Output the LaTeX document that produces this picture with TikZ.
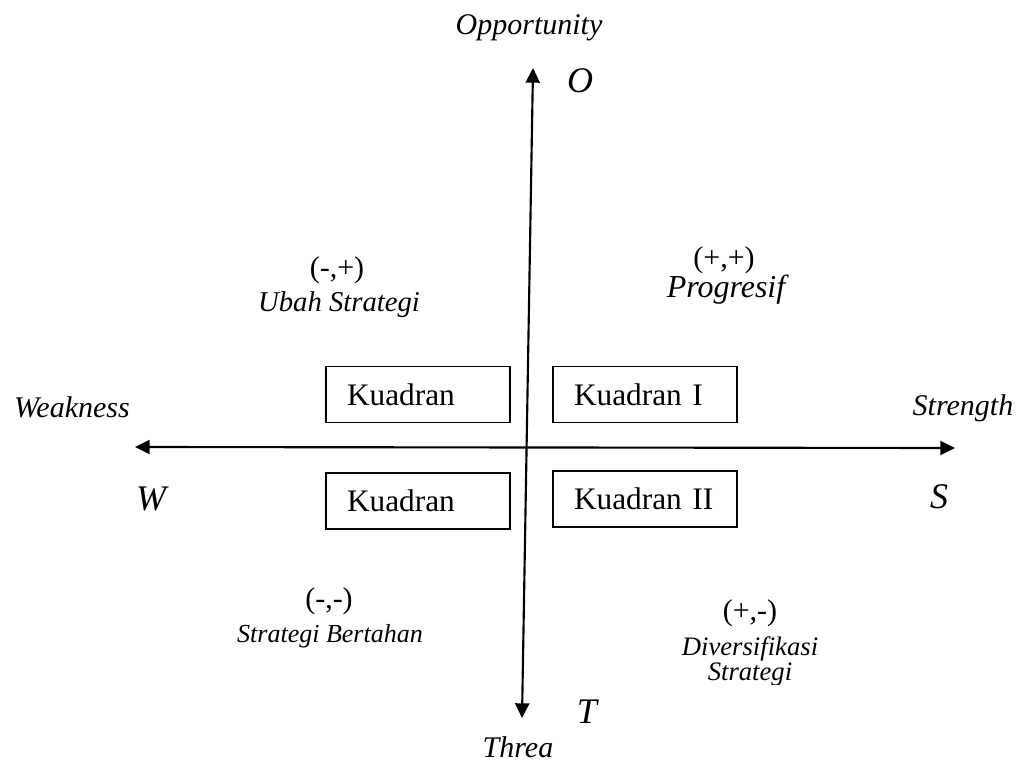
\documentclass[tikz,border=0pt]{standalone}
\usepackage{fontspec}
\setmainfont{Liberation Serif}
\usetikzlibrary{arrows.meta}
\begin{document}
\begin{tikzpicture}[x=0.75pt,y=-0.75pt,
  axis/.style={line width=1.6pt, {Triangle[length=11pt,width=10.5pt]}-{Triangle[length=11pt,width=10.5pt]}},
  quad/.style={draw, line width=1.3pt, minimum width=138pt, minimum height=42pt, inner xsep=15.75pt, inner ysep=0pt, text width=106.5pt, align=left, font=\fontsize{23.5}{28}\selectfont},
  lbl/.style={inner sep=0pt, anchor=base, font=\fontsize{22.5}{27}\selectfont\itshape},
  letter/.style={inner sep=0pt, anchor=base, font=\fontsize{27}{32}\selectfont\itshape},
  sign/.style={inner sep=0pt, anchor=base, font=\fontsize{22.5}{27}\selectfont},
  strat/.style={inner sep=0pt, anchor=base, font=\fontsize{#1}{25}\selectfont\itshape},
  strat/.default=21]
\useasboundingbox (0,0) rectangle (1023,762);
% axes
\coordinate (wtip) at (135,447);
\coordinate (stip) at (955,448);
\coordinate (otip) at (533,68);
\coordinate (ttip) at (522,718);
\draw[axis] (wtip) -- (stip);
\draw[axis] (ttip) -- (otip);
% axis labels
\node[lbl] (opp) at (529,35) {Opportunity};
\node[letter] (o) at (580,93) {O};
\node[letter] (t) at (587,723) {T};
\node[lbl] (thr) at (518,757) {Threa};
\node[lbl] (weak) at (72,417) {Weakness};
\node[lbl] (str) at (963,415) {Strength};
\node[letter] (w) at (151,510) {W};
\node[letter] (s) at (939,508) {S};
% boxes
\node[quad] (q3) at (418,394.5) {Kuadran};
\node[quad] (q1) at (645,394.5) {Kuadran I};
\node[quad] (q4) at (418,501) {Kuadran};
\node[quad] (q2) at (645,499) {Kuadran II};
% quadrant labels
\node[sign] (s3) at (337,278) {(-,+)};
\node[strat=21.5] (l3) at (339,312) {Ubah Strategi};
\node[sign] (s1) at (724,268) {(+,+)};
\node[strat=24] (l1) at (726,298) {Progresif};
\node[sign] (s4) at (329,608) {(-,-)};
\node[strat=19.5] (l4) at (330,642) {Strategi Bertahan};
\node[sign] (s2) at (750,620) {(+,-)};
\node[strat=20] (l2) at (750,655) {Diversifikasi};
\begin{scope}
\clip (600,650) rectangle (900,684);
\node[strat=20] (l2b) at (750,680) {Strategi};
\end{scope}
\end{tikzpicture}
\end{document}
